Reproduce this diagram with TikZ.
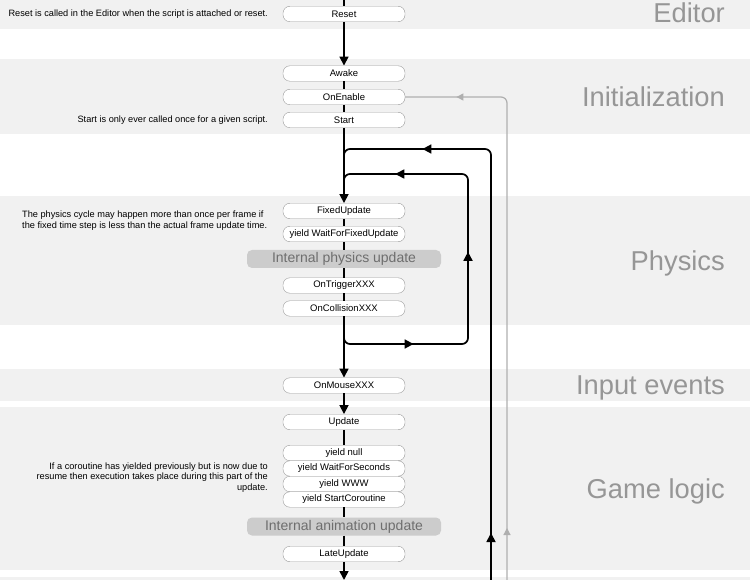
\documentclass[tikz,border=0pt]{standalone}
\usepackage{fontspec}
\setmainfont{Liberation Sans}
\usetikzlibrary{arrows.meta, decorations.markings}
\definecolor{bandgray}{RGB}{241,241,241}
\definecolor{boxgray}{RGB}{155,155,155}
\definecolor{intgray}{RGB}{204,204,204}
\definecolor{inttext}{RGB}{110,110,110}
\definecolor{titlegray}{RGB}{150,150,150}
\definecolor{enablegray}{RGB}{175,175,175}

\begin{document}
\begin{tikzpicture}[x=1pt, y=-1pt,
  evt/.style={rectangle, rounded corners=7pt, minimum width=122pt, minimum height=15.5pt,
    inner sep=0pt, draw=boxgray, fill=white, font=\fontsize{9.5}{11}\selectfont},
  internal/.style={rectangle, rounded corners=5pt, minimum width=194pt, minimum height=18pt,
    inner sep=0pt, fill=intgray, text=inttext, font=\fontsize{14}{16}\selectfont},
  title/.style={anchor=base east, text=titlegray, inner sep=0pt, font=\fontsize{27.3}{30}\selectfont},
  note/.style={inner sep=0pt, font=\fontsize{9.2}{10.6}\selectfont},
  link/.style={line width=1.7pt},
  flow/.style={line width=1.7pt, -{Triangle[length=9pt,width=9pt]}},
  loop/.style={line width=1.7pt, rounded corners=6pt},
  mark tip/.style={postaction={decorate, decoration={markings,
    mark=at position #1 with {\arrow{Triangle[length=9pt,width=9pt]}}}}},
  gray tip/.style={postaction={decorate, decoration={markings,
    mark=at position #1 with {\arrow[enablegray]{Triangle[length=7pt,width=7pt]}}}}},
]
\useasboundingbox (0,0) rectangle (750,580);

% === Bands ===
\fill[bandgray] (0,0)   rectangle (750,29);
\fill[bandgray] (0,59)  rectangle (750,134);
\fill[bandgray] (0,196) rectangle (750,325);
\fill[bandgray] (0,369) rectangle (750,401);
\fill[bandgray] (0,407) rectangle (750,570);
\fill[bandgray] (0,577) rectangle (750,580);

\node[title] (tEditor)  at (725,23)  {Editor};
\node[title] (tInit)    at (725,107) {Initialization};
\node[title] (tPhysics) at (725,271) {Physics};
\node[title] (tInput)   at (725,394) {Input events};
\node[title] (tGame)    at (725,498) {Game logic};

% === Editor / Initialization ===
\node[evt] (reset)    at (344,14)  {Reset};
\node[evt] (awake)    at (344,73.5){Awake};
\node[evt] (onenable) at (344,97)  {OnEnable};
\node[evt] (start)    at (344,120) {Start};

\node[note, anchor=east] (nReset) at (268,14) {Reset is called in the Editor when the script is attached or reset.};
\node[note, anchor=east] (nStart) at (268,120) {Start is only ever called once for a given script.};

% === Physics ===
\node[evt] (fixed)     at (344,211) {FixedUpdate};
\node[evt] (waitfixed) at (344,234) {yield WaitForFixedUpdate};
\node[internal] (physint) at (344,259) {Internal physics update};
\node[evt] (trigger)   at (344,285.5) {OnTriggerXXX};
\node[evt] (collision) at (344,308.5) {OnCollisionXXX};

\node[note, anchor=west, align=left] (nPhysics) at (22,220.5)
  {The physics cycle may happen more than once per frame if\\
   the fixed time step is less than the actual frame update time.};

% === Input events / Game logic ===
\node[evt] (mouse)   at (344,385.5) {OnMouseXXX};
\node[evt] (update)  at (344,422)   {Update};
\node[evt] (ynull)   at (344,453)   {yield null};
\node[evt] (ywait)   at (344,468.5) {yield WaitForSeconds};
\node[evt] (ywww)    at (344,484)   {yield WWW};
\node[evt] (ystart)  at (344,499.5) {yield StartCoroutine};
\node[internal] (animint) at (344,526.5) {Internal animation update};
\node[evt] (late)    at (344,554)   {LateUpdate};

\node[note, anchor=east, align=right] (nCoroutine) at (268,477.5)
  {If a coroutine has yielded previously but is now due to\\
   resume then execution takes place during this part of the\\
   update.};

% === Main line ===
\coordinate (top) at (344,0);
\coordinate (bottom) at (344,580);
\draw[link] (top) -- (reset);
\draw[flow] (reset) -- (awake);
\draw[link] (awake) -- (onenable);
\draw[link] (onenable) -- (start);
\draw[flow] (start) -- (fixed);
\draw[link] (fixed) -- (waitfixed);
\draw[link] (waitfixed) -- (physint);
\draw[link] (physint) -- (trigger);
\draw[link] (trigger) -- (collision);
\draw[flow] (collision) -- (mouse);
\draw[flow] (mouse) -- (update);
\draw[link] (update) -- (ynull);
\draw[link] (ystart) -- (animint);
\draw[link] (animint) -- (late);
\draw[flow] (late) -- (bottom);

% === Loops ===
\coordinate (split) at (344,330);
\coordinate (merge) at (344,195);
\coordinate (frameBot) at (491,580);
\coordinate (enableBot) at (507,580);

% physics loop
\draw[loop, mark tip=81pt, mark tip=225pt, mark tip=373pt]
  (split) -- (344,344) -- (468,344) -- (468,174) -- (344,174) -- (merge);
% frame loop
\draw[loop, mark tip=47pt, mark tip=497pt]
  (frameBot) -- (491,149) -- (344,149) -- (merge);
% re-enable
\draw[enablegray, line width=1.2pt, rounded corners=6pt, gray tip=52pt, gray tip=531pt]
  (enableBot) -- (507,97) -- (onenable.east);

\end{tikzpicture}
\end{document}
